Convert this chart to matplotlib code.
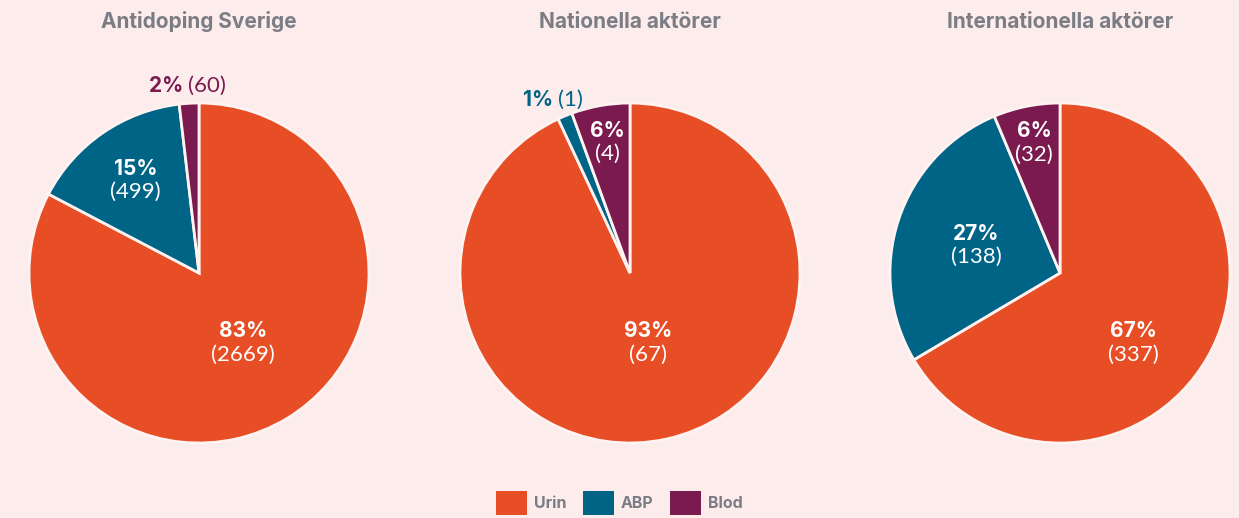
import numpy as np
import matplotlib.pyplot as plt
from matplotlib.patches import Patch

titles = ["Antidoping Sverige", "Nationella aktörer", "Internationella aktörer"]
categories = ["Urin", "ABP", "Blod"]
values = [
    [2669, 499, 60],
    [67, 1, 4],
    [337, 138, 32],
]
colors = ["#E84E26", "#006487", "#7A1A4E"]
bg = "#FDECEC"
grey = "#7B7D84"


def rounded_pcts(vals):
    # largest remainder so the shares add up to 100
    raw = 100 * np.array(vals, dtype=float) / sum(vals)
    out = np.floor(raw).astype(int)
    rest = 100 - out.sum()
    for i in np.argsort(-(raw - out))[:rest]:
        out[i] += 1
    return out


W, H = 1239, 518
fig = plt.figure(figsize=(W / 100, H / 100), dpi=100, facecolor=bg)
plt.rcParams['font.family'] = ['Inter', 'DejaVu Sans']
count_font = ["Lato", "DejaVu Sans"]

centers_x = [199, 630, 1060]
cy = H - 273
r = 170

for cx, title, vals in zip(centers_x, titles, values):
    ax = fig.add_axes([(cx - r) / W, (cy - r) / H, 2 * r / W, 2 * r / H])
    ax.set_facecolor(bg)
    wedges, _ = ax.pie(vals, colors=colors, startangle=90, counterclock=False,
                       wedgeprops=dict(edgecolor="#FFF3F2", linewidth=2))
    ax.set_xlim(-1, 1)
    ax.set_ylim(-1, 1)
    ax.set_aspect("equal")
    ax.axis("off")
    for w, v, c, pct in zip(wedges, vals, colors, rounded_pcts(vals)):
        ang = np.deg2rad((w.theta1 + w.theta2) / 2)
        p = f"{pct}%"
        if pct < 3:
            d = 1.1
            x, y = d * np.cos(ang), d * np.sin(ang)
            ax.text(x, y, p + " ", ha="right", va="center", fontsize=15,
                    fontweight="bold", color=c)
            ax.text(x, y, f"({v})", ha="left", va="center", fontsize=16,
                    color=c, family=count_font)
            continue
        if pct > 50:
            # big slice: label sits in the lower part of the pie
            x, y = 0.5 * np.cos(ang), -0.41
        else:
            d = 0.78 if pct < 10 else (0.66 if pct < 20 else 0.52)
            x, y = d * np.cos(ang), d * np.sin(ang)
        ax.text(x, y + 0.01, p, ha="center", va="bottom", fontsize=15,
                fontweight="bold", color="white")
        ax.text(x, y - 0.01, f"({v})", ha="center", va="top", fontsize=16,
                color="white", family=count_font)
    fig.text(cx / W, 1 - 22 / H, title, ha="center", va="center",
             fontsize=15, fontweight="bold", color=grey)

handles = [Patch(facecolor=c, label=l) for c, l in zip(colors, categories)]
fig.legend(handles=handles, loc="center", bbox_to_anchor=(0.5, 1 - 503 / H),
           ncol=3, frameon=False, labelcolor=grey,
           handlelength=1.9, handleheight=1.9, handletextpad=0.45,
           columnspacing=1.05, prop={'weight': 'bold', 'size': 11.5})

fig.savefig("out.png", dpi=100, facecolor=bg)
